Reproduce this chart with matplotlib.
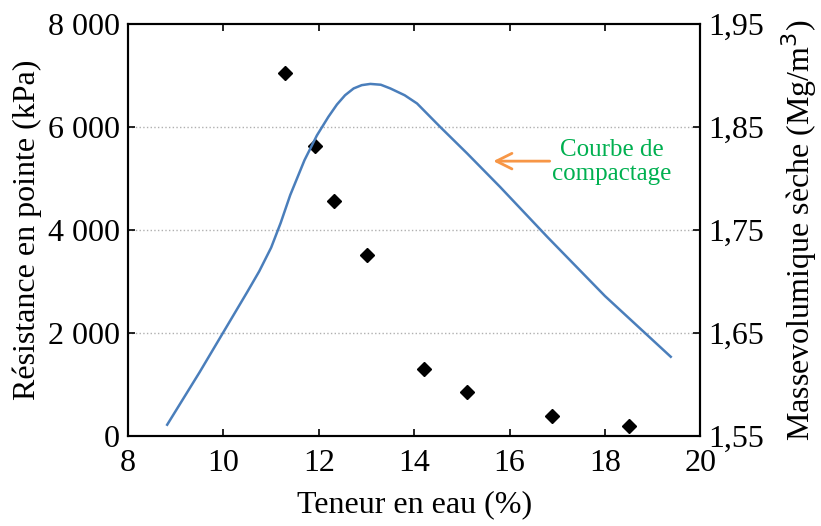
import matplotlib.pyplot as plt
from matplotlib.ticker import FuncFormatter

plt.rcParams['font.family'] = ['Liberation Serif', 'DejaVu Serif']

# === données ===
# résistance en pointe (points)
teneur_pts = [11.30, 11.91, 12.31, 13.0, 14.21, 15.11, 16.89, 18.51]
resistance = [7050, 5630, 4560, 3520, 1300, 850, 390, 200]

# courbe de compactage (masse volumique sèche)
teneur_courbe = [8.82, 9.5, 10.0, 10.5, 10.75, 11.0, 11.2, 11.4, 11.7, 11.96, 12.2,
                 12.38, 12.55, 12.73, 12.9, 13.08, 13.3, 13.5, 13.8, 14.06, 14.55,
                 15.11, 15.8, 16.8, 18.0, 19.38]
densite = [1.561, 1.612, 1.651, 1.690, 1.710, 1.733, 1.757, 1.784, 1.818, 1.842, 1.860,
           1.872, 1.881, 1.8876, 1.8908, 1.892, 1.8912, 1.8876, 1.881, 1.873, 1.850,
           1.8245, 1.792, 1.743, 1.686, 1.627]

left_ticks = [0, 2000, 4000, 6000, 8000]
right_ticks = [1.55, 1.65, 1.75, 1.85, 1.95]
x_ticks = [8, 10, 12, 14, 16, 18, 20]

fig = plt.figure(figsize=(8.21, 5.26), dpi=100)
ax = fig.add_axes([0.156, 0.171, 0.697, 0.783])
ax2 = ax.twinx()

# grille pointillée
for yv in left_ticks[1:-1]:
    ax.axhline(yv, color='#b0b0b0', linestyle=':', linewidth=1.0, zorder=0)

ax.plot(teneur_pts, resistance, linestyle='none', marker='D', markersize=7,
        color='black', zorder=3)
ax2.plot(teneur_courbe, densite, color='#4A7EBB', linewidth=1.8, zorder=2)

ax.set_xlim(8, 20)
ax.set_ylim(0, 8000)
ax2.set_ylim(1.55, 1.95)
ax.set_xticks(x_ticks)
ax.set_yticks(left_ticks)
ax2.set_yticks(right_ticks)

ax.yaxis.set_major_formatter(FuncFormatter(lambda v, p: f'{int(v):,}'.replace(',', ' ')))
ax2.yaxis.set_major_formatter(FuncFormatter(lambda v, p: f'{v:.2f}'.replace('.', ',')))

ax.tick_params(axis='x', direction='in', top=True, length=5, width=1.2, labelsize=23, pad=9)
ax.tick_params(axis='y', direction='in', length=5, width=1.2, labelsize=23, pad=6)
ax2.tick_params(axis='y', direction='in', length=5, width=1.2, labelsize=23, pad=6)

for a in (ax, ax2):
    for s in a.spines.values():
        s.set_linewidth(1.5)

ax.set_xlabel('Teneur en eau (%)', fontsize=23, labelpad=9)
ax.set_ylabel('Résistance en pointe (kPa)', fontsize=23, labelpad=4)
ax2.set_ylabel('Massevolumique sèche (Mg/m$^3$)', fontsize=23, labelpad=11)

# annotation
ax.annotate('', xy=(15.6, 5340), xytext=(16.9, 5340),
            arrowprops=dict(arrowstyle='->', color='#F79646', lw=2, mutation_scale=28))
ax.text(18.15, 5320, 'Courbe de\ncompactage', color='#00B050', fontsize=18,
        ha='center', va='center', linespacing=1.15)

fig.savefig('out.png', dpi=100)
